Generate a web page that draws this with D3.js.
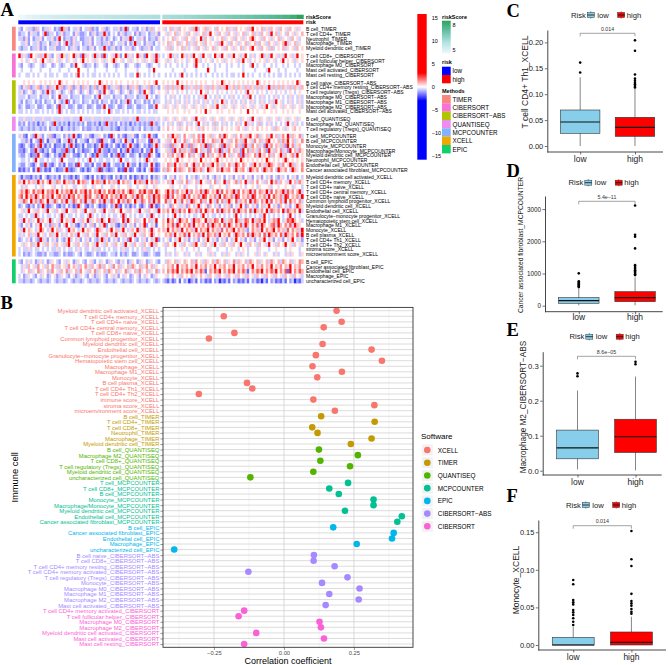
<!DOCTYPE html>
<html>
<head>
<meta charset="utf-8">
<script src="https://cdn.jsdelivr.net/npm/d3@7"></script>
<style>
  body { margin: 0; background: #fff; }
  svg { display: block; font-family: "Liberation Sans", Arial, sans-serif; }
</style>
</head>
<body>
<svg id="fig" width="669" height="665"></svg>
<script>
// ---------------- Panel A: heatmap data ----------------
const heatMethods = ["TIMER", "CIBERSORT", "CIBERSORT−ABS", "QUANTISEQ", "MCPCOUNTER", "XCELL", "EPIC"];
const heatMethodColors = ["#F8877F", "#F971D6", "#B1C400", "#F08CF0", "#82B2FA", "#F0A800", "#12CF6A"];
const heatMethodSizes = [5, 5, 7, 3, 8, 17, 5];
const heatRowNames = [
  "B cell_TIMER", "T cell CD4+_TIMER", "Neutrophil_TIMER", "Macrophage_TIMER", "Myeloid dendritic cell_TIMER",
  "T cell CD8+_CIBERSORT", "T cell follicular helper_CIBERSORT", "Macrophage M0_CIBERSORT", "Mast cell activated_CIBERSORT", "Mast cell resting_CIBERSORT",
  "B cell naive_CIBERSORT−ABS", "T cell CD4+ memory resting_CIBERSORT−ABS", "T cell regulatory (Tregs)_CIBERSORT−ABS", "Macrophage M0_CIBERSORT−ABS",
  "Macrophage M1_CIBERSORT−ABS", "Macrophage M2_CIBERSORT−ABS", "Mast cell activated_CIBERSORT−ABS",
  "B cell_QUANTISEQ", "Macrophage M2_QUANTISEQ", "T cell regulatory (Tregs)_QUANTISEQ",
  "T cell_MCPCOUNTER", "B cell_MCPCOUNTER", "Monocyte_MCPCOUNTER", "Macrophage/Monocyte_MCPCOUNTER", "Myeloid dendritic cell_MCPCOUNTER",
  "Neutrophil_MCPCOUNTER", "Endothelial cell_MCPCOUNTER", "Cancer associated fibroblast_MCPCOUNTER",
  "Myeloid dendritic cell activated_XCELL", "T cell CD4+ memory_XCELL", "T cell CD4+ naive_XCELL", "T cell CD4+ central memory_XCELL",
  "T cell CD8+ naive_XCELL", "Common lymphoid progenitor_XCELL", "Myeloid dendritic cell_XCELL", "Endothelial cell_XCELL",
  "Granulocyte−monocyte progenitor_XCELL", "Hematopoietic stem cell_XCELL", "Macrophage M1_XCELL", "Monocyte_XCELL",
  "B cell plasma_XCELL", "T cell CD4+ Th1_XCELL", "T cell CD4+ Th2_XCELL", "stroma score_XCELL", "microenvironment score_XCELL",
  "B cell_EPIC", "Cancer associated fibroblast_EPIC", "Endothelial cell_EPIC", "Macrophage_EPIC", "uncharacterized cell_EPIC"
];
// scaled scores, one digit per sample (0 = strong blue, 4 = white, 9 = strong red)
const heatLow = [
  "3245332634 2335423296 3243352433 6232453234 3352392433 2435236345",
  "2334253324 3923342352 3342532234 2352339324 3425323342 5233423352",
  "3325242335 2433523942 3325342233 5243325234 2342533924 3352423325",
  "4335243352 3342335243 9325334233 5243323352 3433524239 3342533243",
  "3233423352 3243352233 4235324332 3524339323 5232433523 4323352433",
  "9353294536 3953245395 3549352935 4393529345 3952493534 9352945393",
  "4543545345 9453545354 3545345945 4535453545 9545345354 5453545395",
  "3244323443 2344234323 4423944323 3423443244 3234423443 2344323443",
  "4344434443 4443444344 4344494443 4434444344 4344434444 3444434944",
  "3443343434 4343343443 3434394343 4334343434 3434434334 9343434343",
  "4454545445 4545454954 5445454545 4454954545 4545445454 5445454594",
  "3253623562 3526359362 3562352635 2362539623 5362352635 6235362352",
  "3523452345 2395234523 4523452345 2345239452 3452345234 5239452345",
  "3334233342 3334234933 3423334233 3423943334 2333423334 2333943423",
  "3242334232 4233424323 9242334233 4232423342 3242339242 3342324233",
  "2342233422 3422342933 4223422342 2342239422 3422342234 2233422394",
  "3343434334 3434343934 3433434343 4343343493 4334343434 3343434334",
  "3353335333 5333533353 3353339533 3533353335 3335333533 9333533353",
  "2324232313 2343293232 3132323242 2323132932 3242323132 3232329323",
  "3233232332 3242332313 3232334232 2332323332 3213323323 3242332332",
  "3521432953 2436213342 5239312435 2133542319 3425213352 1432593214",
  "4332514329 2413352143 3925143321 4352193342 1532493314 2533419352",
  "2124312529 3132412231 5293123142 2312592132 4213125932 1342312593",
  "2213422932 1324213322 9231423122 3412932213 2241329312 2314229413",
  "3224312294 3213423129 3342213424 3129332241 3292134223 4132293421",
  "4334343943 3434334394 4333434343 9434334334 3439433433 4343934334",
  "3224321342 2932134231 4223193422 3142239214 3223149322 4132249312",
  "1213241392 3121431223 9212342131 2432913212 3412193124 2131439212",
  "3132213231 4312323142 3213124321 3142312321 4231324131 2313241323",
  "6594756395 7469537649 5637495763 4957639475 6394756349 5763947563",
  "4353444345 3444534434 5443344534 4354434443 5434445344 3445344354",
  "5759648576 9476859475 7695847695 8476957486 9575846975 4869578496",
  "6849573964 8573946857 3968475396 8457396847 5739684573 9684573968",
  "5386495738 6495386473 9538647395 3864739538 6495738649 5386473958",
  "2342132423 9312342132 4231293421 3243121342 3921423132 4213429312",
  "4535945364 5394536453 9453645394 5364539453 6459453645 3945364539",
  "3343433934 3433434393 4334343343 9343433434 3343934343 4334339343",
  "5394635493 6459345394 6539453649 3546395493 6354939546 3549463594",
  "3243524359 4352635243 9435213524 3624359243 5213624352 4359243514",
  "5394654359 6435946354 3956435946 5439654359 4635943564 9356439546",
  "3534635394 5346359435 3465394536 4539453646 3945364539 4536459345",
  "2343524329 3524352432 5934352435 2432593524 3524352943 2435243592",
  "4535463594 5364536453 6945364536 4539453645 3645394536 4536459364",
  "3433534334 3434335343 4334353433 4353343434 3343533434 3435334343",
  "3423234322 3243322342 3223432432 2342322343 3242323422 3432234322",
  "3243534235 3423543245 3542354324 5324354235 4325342354 2354235432",
  "4353645374 5364753645 3746536475 3645736453 7463546375 4635746354",
  "4354635473 5463745364 7354637453 6473546375 4635473546 3754635473",
  "3423543243 5423452354 3245235432 4523543245 3524354234 5243542354",
  "3323323432 3323432332 3432332343 2332343233 2343233234 3233234323"
];
const heatHigh = [
  "5346353645 4536934563 5436454635 3645453694 5463536453 6453645354",
  "4535463545 3645354635 9453645364 5354635463 5364539463 5436453546",
  "3454635453 6453549364 5345463545 3645354695 4536453546 3545364534",
  "5463546354 6353645364 5453694536 4535463546 3645364535 4693546354",
  "4536345463 5345364535 4635453645 3546354694 5364536345 4635453645",
  "3459353495 3539453945 3495394535 9453594353 4593539453 5394535945",
  "4535435454 3545953454 5345453545 4535945345 4545354534 5945453545",
  "4343443434 3443944343 4434344343 4434344394 3443443434 4343443434",
  "4444344443 4444344449 4434444344 4444344443 4444394443 4434444344",
  "4343434394 3434343434 4343434343 3434943434 4343434343 3434343434",
  "5454549454 5454545454 4545495454 5454545454 9545454545 4545454954",
  "5363636593 6353636536 3653636935 6365363653 6365393636 3653636536",
  "4534543454 3454349453 4543454345 4345439454 3454345434 5434543454",
  "4343534343 5343435394 3435343435 3434353943 4353434353 4343534353",
  "4353435343 5343534353 4353495343 5343534353 4353435394 5343534353",
  "5354535453 5453545354 5359453545 3545354535 4535945354 5354535453",
  "4454545445 4544545494 5445454454 5445449454 5445445454 4545454454",
  "5354535453 5453945354 5354535453 5453545394 5354535453 5453545354",
  "3435343634 3534394353 4363435343 4353493534 3634353434 3439435343",
  "5464545354 6454535645 4535464545 4564535454 6454545365 4535456454",
  "5463956347 4536473945 6354739645 3647536945 7354639463 5749365473",
  "4536495347 3546573945 4763594536 4753694537 4635794546 3759463547",
  "5362735493 6273546392 7354629365 4736295374 6352937465 3629473564",
  "4536294736 5372946352 7463925374 6352947365 3746295364 7352946375",
  "5463746395 4736452947 3645739463 5472936547 3956473645 9364573945",
  "4545459454 4545549454 5459454545 4549545454 5454954545 4595454545",
  "5476394653 7459364753 6947536475 3964754369 4753697546 3745963547",
  "6375493765 4739657349 6547395674 3956743965 7439657439 6574396547",
  "3243524354 2435234352 4325342435 2435243524 3524352432 5342435243",
  "5463945364 7354639453 6473549364 5736495364 7453649573 6453946375",
  "4445344543 5444345444 3544544354 4445434454 3544453445 4454435443",
  "4695837465 9374658397 4659384756 9384756938 4765938475 6938574693",
  "5793846579 3846573984 6573948657 3984657398 4657394865 7398465739",
  "4836495384 6397548364 9538473695 4836574938 6475938465 7394856473",
  "3452645335 2643593452 6435243562 4359426435 2463594352 6435243965",
  "6574963857 4965738496 5748396574 8396574839 6574938657 4938657493",
  "3434394343 4343343943 4334343434 3943434343 4339434343 4343943434",
  "6495743965 7439675493 6587493567 4963587493 6759435769 4358796453",
  "6475839647 5839465748 3965748396 4758396475 8396457839 6475839654",
  "6594756394 7563947569 4756384756 9475632475 6394756947 5638475639",
  "4657394658 3946573948 6573946584 3965748396 5748396574 8396574839",
  "3452435943 5243524359 4352435243 5943524352 4359435243 5243594352",
  "5364594536 4536945364 5394536453 6459453645 3645394536 4594536453",
  "4344434454 3445434443 5443444345 4434543444 3544434454 4434544434",
  "4353435443 5344353445 3534435354 4353543445 3543544353 4435354435",
  "4365463546 5463745365 4637546354 7365463754 6354637546 3754635476",
  "5465749465 7465946574 6594657465 9465746594 6574659465 7465946574",
  "6475869475 8694758614 7586947586 9475861475 8694758694 7581947586",
  "4534645364 5463546453 6453645364 5364536453 6453645364 5364536453",
  "3213124142 3023142312 1423021314 2312131423 1203142312 1314230213"
];
// value represented by each digit 0..9
const heatDigitValues = [-2.5, -1.8, -1.15, -0.55, 0, 0.45, 0.9, 1.4, 2.0, 3.2];
const riskLow = [4.62, 4.85, 5.0, 5.1, 5.18, 5.26, 5.33, 5.4, 5.46, 5.52, 5.58, 5.63, 5.68, 5.73, 5.78, 5.83, 5.88, 5.93, 5.98, 6.03];
const riskHigh = [6.08, 6.15, 6.22, 6.3, 6.38, 6.46, 6.55, 6.64, 6.73, 6.82, 6.92, 7.02, 7.12, 7.23, 7.35, 7.48, 7.63, 7.8, 8.05, 8.47];
const heatLegendTicks = [15, 10, 5, 0, -5, -10, -15];

// ---------------- Panel B: correlation data ----------------
const softwares = ["XCELL", "TIMER", "QUANTISEQ", "MCPCOUNTER", "EPIC", "CIBERSORT−ABS", "CIBERSORT"];
const softwareColors = ["#F8766D", "#C49A00", "#53B400", "#00C094", "#00B6EB", "#A58AFF", "#FB61D7"];
const softwareSizes = [19, 6, 6, 8, 5, 10, 7];
const corrCells = [
  "Myeloid dendritic cell activated_XCELL", "T cell CD4+ memory_XCELL", "T cell CD4+ naive_XCELL", "T cell CD4+ central memory_XCELL",
  "T cell CD8+ naive_XCELL", "Common lymphoid progenitor_XCELL", "Myeloid dendritic cell_XCELL", "Endothelial cell_XCELL",
  "Granulocyte−monocyte progenitor_XCELL", "Hematopoietic stem cell_XCELL", "Macrophage_XCELL", "Macrophage M1_XCELL",
  "Monocyte_XCELL", "B cell plasma_XCELL", "T cell CD4+ Th1_XCELL", "T cell CD4+ Th2_XCELL", "immune score_XCELL",
  "stroma score_XCELL", "microenvironment score_XCELL",
  "B cell_TIMER", "T cell CD4+_TIMER", "T cell CD8+_TIMER", "Neutrophil_TIMER", "Macrophage_TIMER", "Myeloid dendritic cell_TIMER",
  "B cell_QUANTISEQ", "Macrophage M2_QUANTISEQ", "T cell CD8+_QUANTISEQ", "T cell regulatory (Tregs)_QUANTISEQ",
  "Myeloid dendritic cell_QUANTISEQ", "uncharacterized cell_QUANTISEQ",
  "T cell_MCPCOUNTER", "T cell CD8+_MCPCOUNTER", "B cell_MCPCOUNTER", "Monocyte_MCPCOUNTER", "Macrophage/Monocyte_MCPCOUNTER",
  "Myeloid dendritic cell_MCPCOUNTER", "Endothelial cell_MCPCOUNTER", "Cancer associated fibroblast_MCPCOUNTER",
  "B cell_EPIC", "Cancer associated fibroblast_EPIC", "Endothelial cell_EPIC", "Macrophage_EPIC", "uncharacterized cell_EPIC",
  "B cell naive_CIBERSORT−ABS", "T cell CD8+_CIBERSORT−ABS", "T cell CD4+ memory resting_CIBERSORT−ABS",
  "T cell CD4+ memory activated_CIBERSORT−ABS", "T cell regulatory (Tregs)_CIBERSORT−ABS", "Monocyte_CIBERSORT−ABS",
  "Macrophage M0_CIBERSORT−ABS", "Macrophage M1_CIBERSORT−ABS", "Macrophage M2_CIBERSORT−ABS", "Mast cell activated_CIBERSORT−ABS",
  "T cell CD4+ memory activated_CIBERSORT", "T cell follicular helper_CIBERSORT", "Macrophage M0_CIBERSORT", "Macrophage M2_CIBERSORT",
  "Myeloid dendritic cell activated_CIBERSORT", "Mast cell activated_CIBERSORT", "Mast cell resting_CIBERSORT"
];
const corrValues = [
  0.188, -0.215, 0.206, 0.142, -0.177, -0.268, 0.138, 0.313, 0.114, 0.350, 0.102, 0.207, 0.119, -0.132, -0.113, -0.304, 0.105, 0.323, 0.182,
  0.133, 0.324, 0.101, 0.120, 0.313, 0.239,
  0.125, 0.264, 0.130, 0.236, 0.105, -0.120,
  0.229, 0.162, 0.196, 0.320, 0.320, 0.218, 0.421, 0.405,
  0.176, 0.392, 0.386, 0.260, -0.392,
  0.107, 0.106, 0.181, -0.127, 0.227, 0.136, 0.270, 0.162, 0.267, 0.149,
  -0.142, -0.162, 0.127, 0.132, -0.099, 0.143, -0.142
];
const corrTicks = [-0.25, 0, 0.25];

// ---------------- Panels C-F: box plot data ----------------
const riskGroups = ["low", "high"];
const boxC = [{ lo: 0, q1: 0.0245, med: 0.0463, q3: 0.0695, hi: 0.1326 }, { lo: 0, q1: 0.0187, med: 0.036, q3: 0.0554, hi: 0.111 }];
const outC = [[0.161, 0.142], [0.204, 0.184, 0.138, 0.130, 0.126, 0.122, 0.119, 0.116, 0.113]];
const boxD = [{ lo: 10, q1: 75, med: 155, q3: 250, hi: 560 }, { lo: 15, q1: 125, med: 250, q3: 435, hi: 882 }];
const outD = [[1005, 760, 720, 690, 660, 630, 600, 580], [3110, 2200, 2140, 1780, 1260, 1200, 1150, 1100, 1060, 1020, 980, 950]];
const boxE = [{ lo: 0.004, q1: 0.034, med: 0.065, q3: 0.116, hi: 0.229 }, { lo: 0.001, q1: 0.052, med: 0.097, q3: 0.147, hi: 0.269 }];
const outE = [[0.278, 0.270], [0.311, 0.304]];
const boxF = [{ lo: 0, q1: 0, med: 0, q3: 0.0102, hi: 0.0243 }, { lo: 0, q1: 0, med: 0.0035, q3: 0.0173, hi: 0.0376 }];
const outF = [[0.0864, 0.0807, 0.0598, 0.0568, 0.054, 0.0465, 0.0434, 0.040, 0.0355, 0.031, 0.0266],
              [0.1516, 0.114, 0.105, 0.068, 0.0585, 0.0554, 0.0523, 0.0479, 0.0443, 0.0417]];
const pValues = ["0.014", "5.4e−11", "8.6e−05", "0.014"];
const boxTitles = ["T cell CD4+ Th1_XCELL", "Cancer associated fibroblast_MCPCOUNTER", "Macrophage M2_CIBERSORT−ABS", "Monocyte_XCELL"];
const riskFill = ["#87CEEB", "#FF0000"];

const svg = d3.select("#fig");
const serif = '"Liberation Serif", "Times New Roman", serif';

function panelLetter(t, x, y) {
  svg.append("text").attr("x", x).attr("y", y).text(t)
    .attr("font-family", serif).attr("font-weight", "bold").attr("font-size", 18.5);
}

// ================= Panel A =================
panelLetter("A", 0.5, 15.5);

const gapU = 0.577;
const methodOfRow = [];
heatMethodSizes.forEach((n, gi) => { for (let k = 0; k < n; k++) methodOfRow.push(gi); });
const yA = d3.scaleLinear().domain([0, heatRowNames.length + (heatMethods.length - 1) * gapU]).range([26.7, 283.3]);
const rowTop = i => yA(i + methodOfRow[i] * gapU);
const rowH = yA(1) - yA(0);
const heatColor = d3.scaleLinear().domain([-3, 0, 3]).range(["#0000FF", "#FFFFFF", "#FF0000"]).clamp(true);

const sides = [{ rows: heatLow, x0: 18.3, x1: 160 }, { rows: heatHigh, x0: 162.3, x1: 303.3 }];
const cells = [];
sides.forEach(s => {
  s.rows.forEach((str, i) => {
    const ds = str.replace(/\s/g, "").split("");
    const xs = d3.scaleLinear().domain([0, ds.length]).range([s.x0, s.x1]);
    ds.forEach((ch, j) => cells.push({ x: xs(j), w: xs(j + 1) - xs(j), y: rowTop(i), v: heatDigitValues[+ch] }));
  });
});
svg.append("g").selectAll("rect").data(cells).join("rect")
  .attr("x", d => d.x).attr("y", d => d.y)
  .attr("width", d => d.w + 0.35).attr("height", rowH + 0.05)
  .attr("fill", d => heatColor(d.v));

// riskScore and risk annotation bars
const riskColor = d3.scaleLinear().domain([4.6, 5.9, 7.2, 8.47]).range(["#EDF8FB", "#B2E2E2", "#66C2A4", "#2CA25F"]).clamp(true);
[{ vals: riskLow, x0: 18.3, x1: 160 }, { vals: riskHigh, x0: 162.3, x1: 303.3 }].forEach(s => {
  const xb = d3.scaleBand().domain(d3.range(s.vals.length)).range([s.x0, s.x1]);
  svg.append("g").selectAll("rect").data(s.vals).join("rect")
    .attr("x", (d, j) => xb(j)).attr("y", 14.7)
    .attr("width", xb.bandwidth() + 0.4).attr("height", 4.3)
    .attr("fill", d => riskColor(d));
});
svg.append("g").selectAll("rect").data(sides).join("rect")
  .attr("x", d => d.x0).attr("y", 20.3).attr("width", d => d.x1 - d.x0).attr("height", 4)
  .attr("fill", (d, i) => i === 0 ? "#0000FF" : "#FF0000");

// method annotation (left)
const groupStart = heatMethodSizes.map((n, gi) => d3.sum(heatMethodSizes.slice(0, gi)));
svg.append("g").selectAll("rect").data(heatMethods).join("rect")
  .attr("x", 12).attr("width", 3.7)
  .attr("y", (d, gi) => rowTop(groupStart[gi]))
  .attr("height", (d, gi) => rowTop(groupStart[gi] + heatMethodSizes[gi] - 1) + rowH - rowTop(groupStart[gi]))
  .attr("fill", (d, gi) => heatMethodColors[gi]);

// row labels
svg.append("g").selectAll("text").data(heatRowNames).join("text")
  .attr("x", 306).attr("y", (d, i) => rowTop(i) + rowH / 2)
  .attr("dominant-baseline", "central").attr("font-size", 5).text(d => d);
svg.append("text").attr("x", 306).attr("y", 16.9).attr("dominant-baseline", "central")
  .attr("font-size", 5.5).attr("font-weight", "bold").text("riskScore");
svg.append("text").attr("x", 306).attr("y", 22.3).attr("dominant-baseline", "central")
  .attr("font-size", 5.5).attr("font-weight", "bold").text("risk");

// main colour legend
const defs = svg.append("defs");
const legY = d3.scaleLinear().domain([15, -15]).range([17.7, 156]);
const grad = defs.append("linearGradient").attr("id", "heatGrad").attr("x1", 0).attr("x2", 0).attr("y1", 0).attr("y2", 1);
const gStops = d3.range(15.8, -15.81, -0.2);
grad.selectAll("stop").data(gStops).join("stop")
  .attr("offset", d => (legY(d) - legY(15.8)) / (legY(-15.8) - legY(15.8)))
  .attr("stop-color", d => heatColor(d));
svg.append("rect").attr("x", 417.3).attr("y", legY(15.8)).attr("width", 9.4)
  .attr("height", legY(-15.8) - legY(15.8)).attr("fill", "url(#heatGrad)");
const legAxis = svg.append("g").attr("transform", "translate(426.7,0)")
  .call(d3.axisRight(legY).tickValues(heatLegendTicks).tickSize(0).tickPadding(5));
legAxis.select(".domain").remove();
legAxis.selectAll("text").attr("font-size", 5.5).attr("font-family", null);

// riskScore legend
const rsY = d3.scaleLinear().domain([8.47, 4.6]).range([20.7, 53.3]);
const rsGrad = defs.append("linearGradient").attr("id", "rsGrad").attr("x1", 0).attr("x2", 0).attr("y1", 0).attr("y2", 1);
rsGrad.selectAll("stop").data(d3.range(8.47, 4.59, -0.1)).join("stop")
  .attr("offset", d => (rsY(d) - 20.7) / (53.3 - 20.7)).attr("stop-color", d => riskColor(d));
svg.append("text").attr("x", 442).attr("y", 16.7).attr("dominant-baseline", "central")
  .attr("font-size", 5.5).attr("font-weight", "bold").text("riskScore");
svg.append("rect").attr("x", 442).attr("y", 20.7).attr("width", 8.7).attr("height", 32.6).attr("fill", "url(#rsGrad)");
svg.append("g").selectAll("text").data([8, 5]).join("text")
  .attr("x", 452.5).attr("y", d => rsY(d)).attr("dominant-baseline", "central").attr("font-size", 5.5).text(d => d);

// risk legend
svg.append("text").attr("x", 442).attr("y", 62).attr("dominant-baseline", "central")
  .attr("font-size", 5.5).attr("font-weight", "bold").text("risk");
svg.append("g").selectAll("rect").data(riskGroups).join("rect")
  .attr("x", 442).attr("y", (d, i) => 66.7 + i * 8.3).attr("width", 8.7).attr("height", 8.3)
  .attr("fill", (d, i) => i === 0 ? "#0000FF" : "#FF0000");
svg.append("g").selectAll("text").data(riskGroups).join("text")
  .attr("x", 452.5).attr("y", (d, i) => 70.9 + i * 8.3).attr("dominant-baseline", "central")
  .attr("font-size", 6.3).text(d => d);

// methods legend
svg.append("text").attr("x", 442).attr("y", 91).attr("dominant-baseline", "central")
  .attr("font-size", 5.5).attr("font-weight", "bold").text("Methods");
svg.append("g").selectAll("rect").data(heatMethods).join("rect")
  .attr("x", 442).attr("y", (d, i) => 95 + i * 8.33).attr("width", 8.7).attr("height", 8.4)
  .attr("fill", (d, i) => heatMethodColors[i]);
svg.append("g").selectAll("text").data(heatMethods).join("text")
  .attr("x", 452.5).attr("y", (d, i) => 99.2 + i * 8.33).attr("dominant-baseline", "central")
  .attr("font-size", 6.3).text(d => d);

// ================= Panel B =================
panelLetter("B", 0.5, 308.5);

const softOfCell = [];
softwareSizes.forEach((n, si) => { for (let k = 0; k < n; k++) softOfCell.push(si); });
const bx = d3.scaleLinear().domain([-0.432, 0.461]).range([163, 413]);
const by = d3.scalePoint().domain(corrCells).range([310.7, 644]);
const bTop = 307.4, bBot = 647.3;

const gB = svg.append("g");
gB.append("rect").attr("x", 163).attr("y", bTop).attr("width", 250).attr("height", bBot - bTop).attr("fill", "#fff");
gB.append("g").selectAll("line").data([-0.375, -0.125, 0.125, 0.375]).join("line")
  .attr("x1", d => bx(d)).attr("x2", d => bx(d)).attr("y1", bTop).attr("y2", bBot)
  .attr("stroke", "#EBEBEB").attr("stroke-width", 0.5);
gB.append("g").selectAll("line").data(corrTicks).join("line")
  .attr("x1", d => bx(d)).attr("x2", d => bx(d)).attr("y1", bTop).attr("y2", bBot)
  .attr("stroke", "#D6D6D6").attr("stroke-width", 0.9);
gB.append("g").selectAll("line").data(corrCells).join("line")
  .attr("x1", 163).attr("x2", 413).attr("y1", d => by(d)).attr("y2", d => by(d))
  .attr("stroke", "#D3D3D3").attr("stroke-width", 0.8);
gB.append("g").selectAll("circle").data(corrCells).join("circle")
  .attr("cx", (d, i) => bx(corrValues[i])).attr("cy", d => by(d)).attr("r", 3.3)
  .attr("fill", (d, i) => softwareColors[softOfCell[i]]);
gB.append("rect").attr("x", 163).attr("y", bTop).attr("width", 250).attr("height", bBot - bTop)
  .attr("fill", "none").attr("stroke", "#333").attr("stroke-width", 0.9);

const byAxis = gB.append("g").attr("transform", "translate(163,0)")
  .call(d3.axisLeft(by).tickSize(2.6).tickPadding(1));
byAxis.select(".domain").remove();
byAxis.selectAll("line").attr("stroke", "#333").attr("stroke-width", 0.5);
byAxis.selectAll("text").attr("font-size", 5.9).attr("font-family", null)
  .attr("fill", (d, i) => softwareColors[softOfCell[i]]);

const bxAxis = gB.append("g").attr("transform", `translate(0,${bBot})`)
  .call(d3.axisBottom(bx).tickValues(corrTicks).tickFormat(d3.format(".2f")).tickSize(2.6).tickPadding(1));
bxAxis.select(".domain").remove();
bxAxis.selectAll("line").attr("stroke", "#333").attr("stroke-width", 0.5);
bxAxis.selectAll("text").attr("font-size", 5.8).attr("font-family", null).attr("fill", "#4D4D4D");

svg.append("text").attr("x", (163 + 413) / 2).attr("y", 661).attr("text-anchor", "middle")
  .attr("dominant-baseline", "central").attr("font-size", 9).text("Correlation coefficient");
svg.append("text").attr("transform", `translate(14.5,${(bTop + bBot) / 2}) rotate(-90)`)
  .attr("text-anchor", "middle").attr("dominant-baseline", "central").attr("font-size", 9.4).text("Immune cell");

// software legend
svg.append("text").attr("x", 421).attr("y", 436).attr("dominant-baseline", "central")
  .attr("font-size", 8).text("Software");
const sl = svg.append("g").selectAll("g").data(softwares).join("g")
  .attr("transform", (d, i) => `translate(427.3,${450 + i * 12.72})`);
sl.append("rect").attr("x", -5.5).attr("y", -5.5).attr("width", 11).attr("height", 11).attr("fill", "#F2F2F2");
sl.append("circle").attr("r", 3.3).attr("fill", (d, i) => softwareColors[i]);
sl.append("text").attr("x", 10.5).attr("dominant-baseline", "central").attr("font-size", 6.4).text(d => d);

// ================= Panels C-F =================
const boxPanels = [
  { letter: "C", letterY: 16.5, legX: 571, legY: 15, x0: 547.3, x1: 663, unit: 54.8, yTop: 30, yBot: 152, y0px: 146, pxPer: 518,
    ticks: [0, 0.05, 0.1, 0.15, 0.2], fmt: ".2f", tickFont: 7.5, titleX: 525, titleY: 82, titleFont: 8.5, bracketY: 33.3, xLabY: 159,
    stats: boxC, out: outC },
  { letter: "D", letterY: 177, legX: 568.5, legY: 182.7, x0: 545, x1: 662.7, unit: 56.3, yTop: 196, yBot: 311.7, y0px: 305.7, pxPer: 0.0322,
    ticks: [0, 1000, 2000, 3000], fmt: "d", tickFont: 6.3, titleX: 520.5, titleY: 245, titleFont: 6.7, bracketY: 201.3, xLabY: 316.7,
    stats: boxD, out: outD },
  { letter: "E", letterY: 335.5, legX: 569.5, legY: 336.7, x0: 542.7, x1: 661.7, unit: 58, yTop: 351.7, yBot: 475, y0px: 470.7, pxPer: 350,
    ticks: [0, 0.1, 0.2, 0.3], fmt: ".1f", tickFont: 7.7, titleX: 523, titleY: 407, titleFont: 8.2, bracketY: 356.3, xLabY: 481.5,
    stats: boxE, out: outE },
  { letter: "F", letterY: 501.5, legX: 566, legY: 505, x0: 538.3, x1: 666, unit: 58.2, yTop: 520, yBot: 650, y0px: 645, pxPer: 752,
    ticks: [0, 0.05, 0.1, 0.15], fmt: ".2f", tickFont: 7.4, titleX: 516, titleY: 580, titleFont: 8.5, bracketY: 525.7, xLabY: 656.7,
    stats: boxF, out: outF }
];

boxPanels.forEach((p, pi) => {
  panelLetter(p.letter, 506.5, p.letterY);
  const g = svg.append("g");
  const x = d3.scaleLinear().domain([0.4, 2.6]).range([p.x0, p.x0 + 2.2 * p.unit]);
  const y = d3.scaleLinear().domain([(p.y0px - p.yBot) / p.pxPer, (p.y0px - p.yTop) / p.pxPer]).range([p.yBot, p.yTop]);
  const bw = 0.72 * p.unit;

  // axes
  const ya = g.append("g").attr("transform", `translate(${p.x0},0)`)
    .call(d3.axisLeft(y).tickValues(p.ticks).tickFormat(d3.format(p.fmt)).tickSize(2.5).tickSizeOuter(0).tickPadding(1.5));
  ya.select(".domain").attr("stroke", "#333").attr("stroke-width", 0.9);
  ya.selectAll(".tick line").attr("stroke", "#333").attr("stroke-width", 0.7);
  ya.selectAll("text").attr("font-size", p.tickFont).attr("font-family", null).attr("fill", "#222");
  const xa = g.append("g").attr("transform", `translate(0,${p.yBot})`)
    .call(d3.axisBottom(x).tickValues([1, 2]).tickFormat(d => riskGroups[d - 1]).tickSize(2.5).tickPadding(1.5));
  xa.select(".domain").remove();
  xa.selectAll(".tick line").attr("stroke", "#333").attr("stroke-width", 0.7);
  xa.selectAll("text").remove();
  g.append("line").attr("x1", p.x0).attr("x2", p.x1).attr("y1", p.yBot).attr("y2", p.yBot)
    .attr("stroke", "#333").attr("stroke-width", 0.9);
  g.append("g").selectAll("text").data(riskGroups).join("text")
    .attr("x", (d, i) => x(i + 1)).attr("y", p.xLabY).attr("text-anchor", "middle")
    .attr("dominant-baseline", "central").attr("font-size", 8.5).attr("fill", "#222").text(d => d);

  // boxes
  const bg = g.append("g").selectAll("g").data(p.stats).join("g");
  bg.append("line").attr("x1", (d, i) => x(i + 1)).attr("x2", (d, i) => x(i + 1))
    .attr("y1", d => y(d.lo)).attr("y2", d => y(d.hi)).attr("stroke", "#333").attr("stroke-width", 0.6);
  bg.append("rect").attr("x", (d, i) => x(i + 1) - bw / 2).attr("width", bw)
    .attr("y", d => y(d.q3)).attr("height", d => Math.max(0.5, y(d.q1) - y(d.q3)))
    .attr("fill", (d, i) => riskFill[i]).attr("stroke", "#333").attr("stroke-width", 0.6);
  bg.append("line").attr("x1", (d, i) => x(i + 1) - bw / 2).attr("x2", (d, i) => x(i + 1) + bw / 2)
    .attr("y1", d => y(d.med)).attr("y2", d => y(d.med)).attr("stroke", "#111").attr("stroke-width", 1.2);
  p.out.forEach((arr, i) => {
    g.append("g").selectAll("circle").data(arr).join("circle")
      .attr("cx", x(i + 1)).attr("cy", d => y(d)).attr("r", 1.3).attr("fill", "#000");
  });

  // significance bracket
  g.append("path")
    .attr("d", `M${x(1)},${p.bracketY + 3}V${p.bracketY}H${x(2)}V${p.bracketY + 3}`)
    .attr("fill", "none").attr("stroke", "#666").attr("stroke-width", 0.6);
  g.append("text").attr("x", (x(1) + x(2)) / 2).attr("y", p.bracketY - 2.3).attr("text-anchor", "middle")
    .attr("font-size", 5.3).attr("fill", "#333").text(pValues[pi]);

  // y title
  g.append("text").attr("transform", `translate(${p.titleX},${p.titleY}) rotate(-90)`)
    .attr("text-anchor", "middle").attr("dominant-baseline", "central")
    .attr("font-size", p.titleFont).attr("fill", "#222").text(boxTitles[pi]);

  // legend
  const lg = g.append("g").attr("transform", `translate(${p.legX},${p.legY})`);
  lg.append("text").attr("x", 0).attr("dominant-baseline", "central").attr("font-size", 7.7).attr("fill", "#222").text("Risk");
  const keyX = [16.3, 46.7], labX = [26.3, 55.7];
  riskGroups.forEach((grp, i) => {
    lg.append("line").attr("x1", keyX[i] + 3.5).attr("x2", keyX[i] + 3.5).attr("y1", -3.6).attr("y2", 3.6)
      .attr("stroke", "#333").attr("stroke-width", 0.6);
    lg.append("rect").attr("x", keyX[i]).attr("y", -2.5).attr("width", 7).attr("height", 5)
      .attr("fill", riskFill[i]).attr("stroke", "#333").attr("stroke-width", 0.5);
    lg.append("line").attr("x1", keyX[i]).attr("x2", keyX[i] + 7).attr("y1", 0).attr("y2", 0)
      .attr("stroke", "#111").attr("stroke-width", 0.8);
    lg.append("text").attr("x", labX[i]).attr("dominant-baseline", "central").attr("font-size", 7.7)
      .attr("fill", "#222").text(grp);
  });
});
</script>
</body>
</html>
